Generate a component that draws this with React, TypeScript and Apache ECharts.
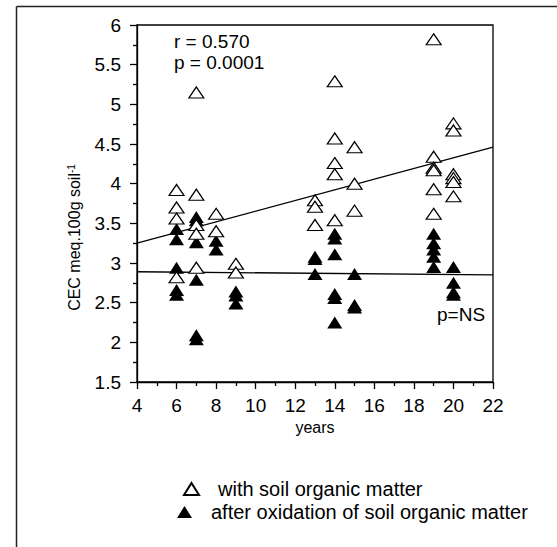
import React, { useEffect, useRef } from "react";
import * as echarts from "echarts";

const FONT = "'Liberation Sans', Arial, sans-serif";

// x positions (years) and CEC values, with soil organic matter (open triangles)
const openYears = [
  6, 6, 6, 6,
  7, 7, 7, 7, 7,
  8, 8,
  9, 9,
  13, 13, 13,
  14, 14, 14, 14, 14,
  15, 15, 15,
  19, 19, 19, 19, 19, 19,
  20, 20, 20, 20, 20, 20,
];
const openCEC = [
  3.92, 3.7, 3.56, 2.82,
  5.15, 3.86, 3.48, 3.37, 2.94,
  3.62, 3.4,
  2.99, 2.88,
  3.79, 3.71, 3.48,
  5.29, 4.57, 4.26, 4.12, 3.54,
  4.46, 4.0, 3.66,
  5.82, 4.34, 4.2, 4.17, 3.93, 3.62,
  4.76, 4.67, 4.12, 4.07, 4.02, 3.84,
];

// after oxidation of soil organic matter (filled triangles)
const filledYears = [
  6, 6, 6, 6, 6,
  7, 7, 7, 7, 7, 7,
  8, 8,
  9, 9, 9,
  13, 13, 13,
  14, 14, 14, 14, 14, 14,
  15, 15, 15,
  19, 19, 19, 19, 19,
  20, 20, 20, 20,
];
const filledCEC = [
  3.43, 3.3, 2.94, 2.66, 2.6,
  3.58, 3.54, 3.26, 2.79, 2.09, 2.04,
  3.28, 3.17,
  2.64, 2.59, 2.49,
  3.08, 3.05, 2.86,
  3.37, 3.31, 3.11, 2.61, 2.56, 2.25,
  2.86, 2.47, 2.44,
  3.37, 3.25, 3.17, 3.08, 2.95,
  2.95, 2.75, 2.63, 2.6,
];

// regression lines (end points)
const fitYears = [4, 22];
const fitOpen = [3.25, 4.46];
const fitFilled = [2.89, 2.85];

const seriesNames = ["with soil organic matter", "after oxidation of soil organic matter"];
const statText = ["r = 0.570", "p = 0.0001"];
const nsText = "p=NS";

export default function App() {
  const ref = useRef<HTMLDivElement>(null);
  useEffect(() => {
    if (!ref.current) return;
    const chart = echarts.init(ref.current, undefined, { renderer: "svg" });
    const pair = (xs: number[], ys: number[]) => xs.map((x, i) => [x, ys[i]]);
    chart.setOption({
      animation: false,
      backgroundColor: "#fff",
      textStyle: { fontFamily: FONT, color: "#000" },
      grid: {
        left: 137,
        top: 25,
        width: 356,
        height: 357,
        show: true,
        borderColor: "#000",
        borderWidth: 1.3,
        backgroundColor: "transparent",
      },
      xAxis: {
        type: "value",
        min: 4,
        max: 22,
        interval: 2,
        name: "years",
        nameLocation: "middle",
        nameGap: 37,
        nameTextStyle: { fontSize: 16, color: "#000", fontFamily: FONT },
        axisLine: { show: true, lineStyle: { color: "#000", width: 1.3 } },
        axisTick: { show: true, inside: false, length: 7, lineStyle: { color: "#000", width: 1.3 } },
        minorTick: { show: true, splitNumber: 2, length: 4, lineStyle: { color: "#000", width: 1.3 } },
        axisLabel: { fontSize: 19, color: "#000", margin: 14, fontFamily: FONT },
        splitLine: { show: false },
      },
      yAxis: {
        type: "value",
        min: 1.5,
        max: 6,
        interval: 0.5,
        name: "CEC meq.100g soil{sup|-1}",
        nameLocation: "middle",
        nameRotate: 90,
        nameGap: 55,
        nameTextStyle: {
          fontSize: 16,
          color: "#000",
          fontFamily: FONT,
          padding: [0, 68, 0, 0],
          rich: { sup: { fontSize: 10, verticalAlign: "top", color: "#000", fontFamily: FONT } },
        },
        axisLine: { show: true, lineStyle: { color: "#000", width: 1.3 } },
        axisTick: { show: true, inside: false, length: 7, lineStyle: { color: "#000", width: 1.3 } },
        minorTick: { show: true, splitNumber: 2, length: 4, lineStyle: { color: "#000", width: 1.3 } },
        axisLabel: { fontSize: 19, color: "#000", margin: 16, fontFamily: FONT },
        splitLine: { show: false },
      },
      legend: [
        {
          data: [{ name: seriesNames[0] }],
          left: 178,
          top: 474,
          itemWidth: 15,
          itemHeight: 12,
          textStyle: { fontSize: 20, color: "#000", fontFamily: FONT, padding: [0, 0, 0, 14] },
          selectedMode: false,
        },
        {
          data: [{ name: seriesNames[1] }],
          left: 172,
          top: 497,
          itemWidth: 15,
          itemHeight: 12,
          textStyle: { fontSize: 20, color: "#000", fontFamily: FONT, padding: [0, 0, 0, 14] },
          selectedMode: false,
        },
      ],
      graphic: [
        {
          type: "line",
          shape: { x1: 16.5, y1: 6.5, x2: 557, y2: 6.5 },
          style: { stroke: "#222", lineWidth: 1.5 },
        },
        {
          type: "line",
          shape: { x1: 16.5, y1: 6.5, x2: 16.5, y2: 547 },
          style: { stroke: "#222", lineWidth: 1.5 },
        },
        {
          type: "text",
          left: 174,
          top: 32,
          style: { text: statText[0], font: `19px ${FONT}`, fill: "#000" },
        },
        {
          type: "text",
          left: 174,
          top: 53,
          style: { text: statText[1], font: `19px ${FONT}`, fill: "#000" },
        },
        {
          type: "text",
          left: 437,
          top: 305,
          style: { text: nsText, font: `19px ${FONT}`, fill: "#000" },
        },
      ],
      series: [
        {
          type: "line",
          data: pair(fitYears, fitOpen),
          showSymbol: false,
          symbol: "none",
          lineStyle: { color: "#000", width: 1.3 },
          silent: true,
          z: 1,
        },
        {
          type: "line",
          data: pair(fitYears, fitFilled),
          showSymbol: false,
          symbol: "none",
          lineStyle: { color: "#000", width: 1.3 },
          silent: true,
          z: 1,
        },
        {
          name: seriesNames[1],
          type: "scatter",
          data: pair(filledYears, filledCEC),
          symbol: "triangle",
          symbolSize: [15, 12],
          itemStyle: { color: "#000", opacity: 1 },
          z: 3,
        },
        {
          name: seriesNames[0],
          type: "scatter",
          data: pair(openYears, openCEC),
          symbol: "triangle",
          symbolSize: [15, 11],
          itemStyle: { color: "#fff", borderColor: "#000", borderWidth: 1.2, opacity: 1 },
          z: 4,
        },
      ],
    });
    return () => chart.dispose();
  }, []);
  return (
    <div
      ref={ref}
      style={{ position: "fixed", left: 0, top: 0, width: 557, height: 547, background: "#fff" }}
    />
  );
}
